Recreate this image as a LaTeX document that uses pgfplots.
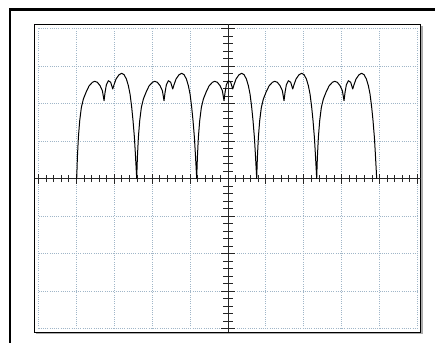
\documentclass[border=0pt]{standalone}
\usepackage{pgfplots}
\pgfplotsset{compat=1.18}
\definecolor{gridc}{RGB}{160,182,200}
\begin{document}
\begin{tikzpicture}
\useasboundingbox (0pt,0pt) rectangle (435pt,342pt);
\fill[white] (0pt,0pt) rectangle (435pt,342pt);
\draw[line width=2.2pt] (9.6pt,-10pt) -- (9.6pt,332.5pt) -- (450pt,332.5pt);
\draw[gray!65, line width=1.6pt] (421.8pt,316pt) -- (421.8pt,9.2pt) -- (36pt,9.2pt);
\begin{axis}[at={(34pt,10pt)}, anchor=south west, scale only axis,
  width=386.5pt, height=308pt,
  xmin=-5.119, xmax=5.079, ymin=-4.093, ymax=4.12,
  xtick=\empty, ytick=\empty,
  axis line style={black, line width=0.8pt},
  clip=false]
\pgfplotsinvokeforeach{-5,...,5}{
  \draw[gridc, line width=0.9pt, dash pattern=on 1pt off 1.2pt] (axis cs:#1,-4) -- (axis cs:#1,4);
}
\pgfplotsinvokeforeach{-4,...,4}{
  \draw[gridc, line width=0.9pt, dash pattern=on 1pt off 1.2pt] (axis cs:-5,#1) -- (axis cs:5,#1);
}
\draw[black!85, line width=0.9pt] (axis cs:-5.1,0) -- (axis cs:5.079,0);
\draw[black!85, line width=0.9pt] (axis cs:0,-4.093) -- (axis cs:0,4.12);
\pgfplotsinvokeforeach{-5,-4.8,...,5.05}{
  \draw[black!85, line width=0.9pt] (axis cs:#1,0) ++(0pt,-3.5pt) -- ++(0pt,7pt);
}
\pgfplotsinvokeforeach{-5,...,5}{
  \draw[black!85, line width=0.9pt] (axis cs:#1,0) ++(0pt,-5pt) -- ++(0pt,10pt);
}
\pgfplotsinvokeforeach{-4,-3.8,...,4.05}{
  \draw[black!85, line width=0.9pt] (axis cs:0,#1) ++(-5pt,0pt) -- ++(10pt,0pt);
}
\pgfplotsinvokeforeach{-4,...,4}{
  \draw[black!85, line width=0.9pt] (axis cs:0,#1) ++(-7pt,0pt) -- ++(14pt,0pt);
}
\addplot[black, line width=1pt, mark=none, line join=round] coordinates {
(-3.992,0) (-3.974,0.565) (-3.948,1.098) (-3.913,1.542) (-3.869,1.898) (-3.816,2.12) (-3.746,2.298) (-3.667,2.467) (-3.578,2.565) (-3.517,2.592) (-3.447,2.565) (-3.376,2.475) (-3.315,2.342) (-3.271,2.075) (-3.244,2.298) (-3.209,2.502) (-3.156,2.608) (-3.095,2.565) (-3.042,2.387) (-3.007,2.502) (-2.954,2.653) (-2.875,2.768) (-2.805,2.805) (-2.743,2.768) (-2.681,2.653) (-2.629,2.475) (-2.585,2.253) (-2.541,1.898) (-2.506,1.542) (-2.470,1.098) (-2.444,0.653) (-2.409,0)
(-2.391,0.565) (-2.365,1.098) (-2.330,1.542) (-2.286,1.898) (-2.233,2.12) (-2.163,2.298) (-2.084,2.467) (-1.995,2.565) (-1.934,2.592) (-1.864,2.565) (-1.793,2.475) (-1.732,2.342) (-1.688,2.075) (-1.661,2.298) (-1.626,2.502) (-1.573,2.608) (-1.512,2.565) (-1.459,2.387) (-1.424,2.502) (-1.371,2.653) (-1.292,2.768) (-1.222,2.805) (-1.160,2.768) (-1.098,2.653) (-1.046,2.475) (-1.002,2.253) (-0.958,1.898) (-0.923,1.542) (-0.887,1.098) (-0.861,0.653) (-0.826,0)
(-0.808,0.565) (-0.782,1.098) (-0.747,1.542) (-0.703,1.898) (-0.650,2.12) (-0.580,2.298) (-0.501,2.467) (-0.412,2.565) (-0.351,2.592) (-0.281,2.565) (-0.210,2.475) (-0.149,2.342) (-0.105,2.075) (-0.078,2.298) (-0.043,2.502) (0.010,2.608) (0.071,2.565) (0.124,2.387) (0.159,2.502) (0.212,2.653) (0.291,2.768) (0.361,2.805) (0.423,2.768) (0.485,2.653) (0.537,2.475) (0.581,2.253) (0.625,1.898) (0.660,1.542) (0.696,1.098) (0.722,0.653) (0.757,0)
(0.775,0.565) (0.801,1.098) (0.836,1.542) (0.880,1.898) (0.933,2.12) (1.003,2.298) (1.082,2.467) (1.171,2.565) (1.232,2.592) (1.302,2.565) (1.373,2.475) (1.434,2.342) (1.478,2.075) (1.505,2.298) (1.540,2.502) (1.593,2.608) (1.654,2.565) (1.707,2.387) (1.742,2.502) (1.795,2.653) (1.874,2.768) (1.944,2.805) (2.006,2.768) (2.068,2.653) (2.120,2.475) (2.164,2.253) (2.208,1.898) (2.243,1.542) (2.279,1.098) (2.305,0.653) (2.340,0)
(2.358,0.565) (2.384,1.098) (2.419,1.542) (2.463,1.898) (2.516,2.12) (2.586,2.298) (2.665,2.467) (2.754,2.565) (2.815,2.592) (2.885,2.565) (2.956,2.475) (3.017,2.342) (3.061,2.075) (3.088,2.298) (3.123,2.502) (3.176,2.608) (3.237,2.565) (3.290,2.387) (3.325,2.502) (3.378,2.653) (3.457,2.768) (3.527,2.805) (3.589,2.768) (3.651,2.653) (3.703,2.475) (3.747,2.253) (3.791,1.898) (3.826,1.542) (3.862,1.098) (3.888,0.653) (3.923,0)
};
\end{axis}
\end{tikzpicture}
\end{document}
